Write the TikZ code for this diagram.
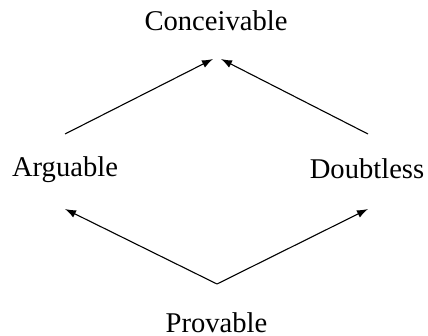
\documentclass[tikz,border=0pt]{standalone}
\usepackage{fontspec}
\setmainfont{Liberation Serif}
\usetikzlibrary{arrows.meta,calc}
\begin{document}
\begin{tikzpicture}[x=0.5pt,y=-0.5pt,
  lbl/.style={anchor=base,inner sep=0pt,font=\fontsize{14.3}{17}\selectfont},
  arr/.style={-{Latex[length=5.5pt,width=4pt]},line width=0.55pt}]
\useasboundingbox (0,0) rectangle (428,336);
\node[lbl] (conc) at (216,31) {Conceivable};
\node[lbl] (arg) at (65,177) {Arguable};
\node[lbl] (doubt) at (367,179) {Doubtless};
\node[lbl] (prov) at (216.5,332) {Provable};
\draw[arr] ($(prov.base)+(0.5,-48)$) -- ($(arg.base)+(0,32)$);
\draw[arr] ($(prov.base)+(0.5,-48)$) -- ($(doubt.base)+(1,30)$);
\draw[arr] ($(arg.base)+(0,-43)$) -- ($(conc.base)+(-3,28)$);
\draw[arr] ($(doubt.base)+(1,-45)$) -- ($(conc.base)+(5,28)$);
\end{tikzpicture}
\end{document}
